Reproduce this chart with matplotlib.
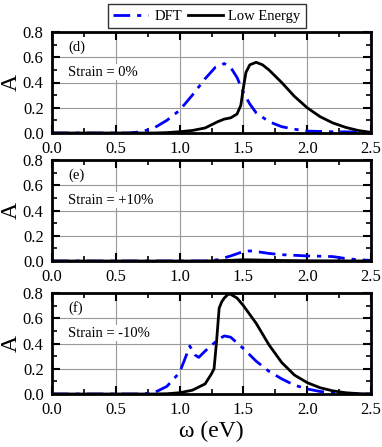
import numpy as np
import matplotlib.pyplot as plt
from matplotlib.ticker import MultipleLocator

plt.rcParams['font.family'] = ['Liberation Serif', 'DejaVu Serif']

## Data (omega in eV, A)
# (d) strain = 0%
d_dft_w = [0.0, 0.6, 0.7, 0.8, 0.9, 1.0, 1.1, 1.2, 1.28, 1.35, 1.4, 1.45, 1.5, 1.55, 1.6, 1.7, 1.8, 1.9, 2.0, 2.2, 2.4, 2.5]
d_dft_a = [0.0, 0.0, 0.01, 0.04, 0.1, 0.18, 0.3, 0.43, 0.52, 0.55, 0.52, 0.44, 0.32, 0.23, 0.16, 0.09, 0.05, 0.03, 0.015, 0.01, 0.008, 0.0]
d_le_w = [0.0, 0.8, 0.9, 1.0, 1.1, 1.2, 1.3, 1.35, 1.4, 1.45, 1.48, 1.5, 1.52, 1.55, 1.6, 1.65, 1.7, 1.8, 1.9, 2.0, 2.1, 2.2, 2.3, 2.4, 2.5]
d_le_a = [0.0, 0.0, 0.003, 0.01, 0.02, 0.04, 0.09, 0.11, 0.12, 0.15, 0.22, 0.36, 0.48, 0.54, 0.56, 0.54, 0.5, 0.4, 0.29, 0.2, 0.13, 0.08, 0.045, 0.02, 0.005]

# (e) strain = +10%
e_dft_w = [0.0, 1.2, 1.3, 1.4, 1.5, 1.55, 1.6, 1.7, 1.8, 1.9, 2.0, 2.1, 2.2, 2.3, 2.4, 2.5]
e_dft_a = [0.0, 0.0, 0.01, 0.04, 0.075, 0.08, 0.075, 0.06, 0.05, 0.045, 0.04, 0.038, 0.035, 0.02, 0.01, 0.005]
e_le_w = [0.0, 1.2, 1.4, 1.5, 1.6, 1.8, 2.0, 2.5]
e_le_a = [0.0, 0.0, 0.005, 0.01, 0.008, 0.004, 0.002, 0.0]

# (f) strain = -10%
f_dft_w = [0.0, 0.7, 0.8, 0.9, 1.0, 1.05, 1.08, 1.12, 1.15, 1.2, 1.3, 1.35, 1.4, 1.5, 1.6, 1.7, 1.8, 1.9, 2.0, 2.1, 2.2, 2.3, 2.5]
f_dft_a = [0.0, 0.0, 0.01, 0.06, 0.17, 0.3, 0.38, 0.31, 0.29, 0.34, 0.43, 0.46, 0.45, 0.36, 0.26, 0.18, 0.12, 0.07, 0.04, 0.02, 0.01, 0.005, 0.0]
f_le_w = [0.0, 0.8, 0.9, 1.0, 1.1, 1.2, 1.25, 1.27, 1.29, 1.31, 1.33, 1.35, 1.38, 1.4, 1.45, 1.5, 1.6, 1.7, 1.8, 1.9, 2.0, 2.1, 2.2, 2.3, 2.4, 2.5]
f_le_a = [0.0, 0.0, 0.002, 0.01, 0.03, 0.08, 0.16, 0.2, 0.42, 0.68, 0.73, 0.76, 0.79, 0.79, 0.76, 0.7, 0.56, 0.39, 0.25, 0.15, 0.09, 0.05, 0.025, 0.01, 0.003, 0.0]

panels = [
    ('(d)', 'Strain = 0%', d_dft_w, d_dft_a, d_le_w, d_le_a),
    ('(e)', 'Strain = +10%', e_dft_w, e_dft_a, e_le_w, e_le_a),
    ('(f)', 'Strain = -10%', f_dft_w, f_dft_a, f_le_w, f_le_a),
]

fig = plt.figure(figsize=(3.82, 4.47), dpi=100)
W, H = 382.0, 447.0
tops = [32, 160, 293]
left, right = 52, 371
height = 101

for k, (tag, strain, dw, da, lw, la) in enumerate(panels):
    ax = fig.add_axes([left / W, 1 - (tops[k] + height) / H, (right - left) / W, height / H])
    l1, = ax.plot(dw, da, color='blue', linestyle=(0, (6, 2.5, 1.5, 2.5)), lw=2, label='DFT')
    l2, = ax.plot(lw, la, color='black', lw=2, label='Low Energy')
    ax.set_xlim(0, 2.5)
    ax.set_ylim(0, 0.8)
    ax.xaxis.set_major_locator(MultipleLocator(0.5))
    ax.xaxis.set_minor_locator(MultipleLocator(0.25))
    ax.yaxis.set_major_locator(MultipleLocator(0.2))
    ax.yaxis.set_minor_locator(MultipleLocator(0.1))
    ax.grid(True, which='major', color='#999999', lw=0.8)
    ax.tick_params(which='both', direction='in', top=True, right=True, labelsize=12)
    ax.tick_params(axis='x', pad=6)
    ax.tick_params(axis='y', pad=6)
    ax.tick_params(which='major', length=6, width=1.5)
    ax.tick_params(which='minor', length=3.5, width=1.2)
    for s in ax.spines.values():
        s.set_linewidth(2)
    ax.set_ylabel('A', fontsize=17, labelpad=1)
    ax.text(0.05, 0.85, tag, fontsize=10.5, zorder=5, va='center', transform=ax.transAxes,
            bbox=dict(facecolor='white', edgecolor='none', pad=1))
    ax.text(0.05, 0.6, strain, fontsize=10.5, zorder=5, va='center', transform=ax.transAxes,
            bbox=dict(facecolor='white', edgecolor='none', pad=1))
    if k == 2:
        ax.set_xlabel('ω (eV)', fontsize=17, labelpad=2)
    if k == 0:
        fig.legend(handles=[l1, l2], loc='upper center', bbox_to_anchor=(0.542, 0.99), ncol=2,
                   fontsize=10.5, frameon=True, fancybox=False, edgecolor='black',
                   handlelength=2.4, handletextpad=0.4, columnspacing=0.4,
                   borderpad=0.35, borderaxespad=0)

fig.savefig('out.png', dpi=100)
